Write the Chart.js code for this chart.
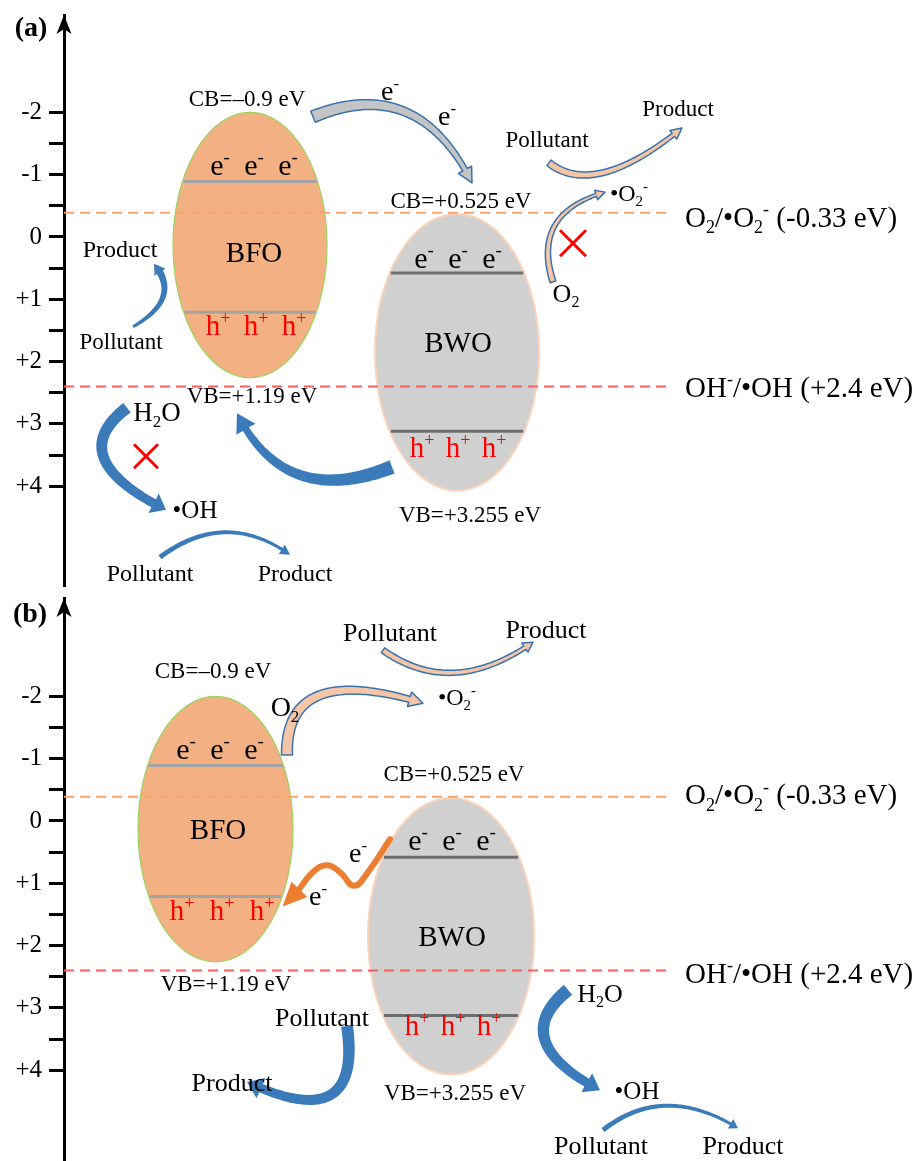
<!DOCTYPE html>
<html>
<head>
<meta charset="utf-8">
<script src="https://cdn.jsdelivr.net/npm/chart.js@4.4.1/dist/chart.umd.min.js"></script>
<style>
  body { margin: 0; background: #fff; }
  canvas { display: block; }
</style>
</head>
<body>
<canvas id="panelA" width="919" height="590"></canvas>
<canvas id="panelB" width="919" height="571"></canvas>
<script>
// energy axis, eV (negative up)
const majorTicks = [-2, -1, 0, 1, 2, 3, 4]
const majorLabels = ['-2', '-1', '0', '+1', '+2', '+3', '+4']
const minorTicks = [-1.5, -0.5, 0.5, 1.5, 2.5, 3.5]

// band structure (eV)
const bfoBody = [-2.0, 2.26]      // top / bottom of the BFO ellipse
const bwoBody = [-0.37, 4.07]     // top / bottom of the BWO ellipse
const bfoEdges = [-0.89, 1.21]    // CB line, VB line
const bwoEdges = [0.58, 3.12]
const bandLabels = ['CB=–0.9 eV', 'VB=+1.19 eV', 'CB=+0.525 eV', 'VB=+3.255 eV']

// redox potentials
const redoxLevels = [-0.39, 2.40]
const redoxLabels = ['O_2/•O_2^- (-0.33 eV)', 'OH^-/•OH (+2.4 eV)']

// electron path from BWO CB to BFO VB in (b), eV
const waveE = [0.29, 0.82, 1.04, 0.82, 0.71, 0.82, 1.12]
const waveTipE = 1.43

const SERIF = '"Liberation Serif", "Times New Roman", serif'
const BLUE = '#3C7BBA'
const EDGE = '#3A72B0'
const PEACH = '#F5C6A5'

const panelA = {
    tag: '(a)', tagPos: [31, -3.37],
    range: [-3.563, 5.586], pad: [15, 5],
    bfoX: 250, bfoRx: 77, bwoX: 457, bwoRx: 82,
    redoxEnd: 666, redoxLabelE: [-0.32, 2.41],
    bandText: [[247, -2.23], [252, 2.55], [461, -0.58], [470, 4.46]],
    names: [[254, 0.24], [458, 1.70]],
    carriers: [
        ['e^-', 254, -1.11, 34, '#000'], ['h^+', 256, 1.46, 38, '#f00'],
        ['e^-', 458, 0.385, 34, '#000'], ['h^+', 458, 3.42, 36, '#f00']
    ],
    texts: [
        ['e^-', 390, -2.31, 28], ['e^-', 447, -1.91, 28],
        ['Pollutant', 547, -1.56, 23], ['Product', 678, -2.07, 23],
        ['•O_2^-', 629, -0.71, 24], ['O_2', 566, 0.90, 26],
        ['Product', 120, 0.19, 24], ['Pollutant', 121, 1.67, 23],
        ['H_2O', 157, 2.81, 27], ['•OH', 195, 4.38, 25],
        ['Pollutant', 150, 5.39, 24], ['Product', 295, 5.39, 24]
    ],
    crosses: [[573, 0.10, 13], [146, 3.52, 12]],
    arrows: [
        { from: [133, 1.44], via: [163, 0.96], to: [154, 0.43], w: [3, 7], head: [13, 10], fill: BLUE },
        { from: [127, 2.74], via: [104, 3.55], to: [166, 4.38], w: [12, 9], head: [22, 14], fill: BLUE },
        { from: [392, 3.69], via: [300, 3.82], to: [237, 2.83], w: [14, 7], head: [22, 16], fill: BLUE },
        { from: [160, 5.14], via: [225, 4.74], to: [290, 5.10], w: [5, 3], head: [11, 8], fill: BLUE },
        { from: [313, -1.93], via: [405, -2.01], to: [472, -0.87], w: [12, 5], head: [15, 12], fill: '#C4C4C4', stroke: EDGE },
        { from: [549, -1.19], via: [605, -1.04], to: [682, -1.75], w: [7, 4], head: [11, 10], fill: PEACH, stroke: EDGE },
        { from: [553, 0.72], via: [555, -0.19], to: [605, -0.72], w: [6, 3], head: [10, 9], fill: PEACH, stroke: EDGE }
    ]
}

const panelB = {
    tag: '(b)', tagPos: [30, -3.34],
    range: [-3.579, 5.457], pad: [8, 0],
    bfoX: 215.5, bfoRx: 77.5, bwoX: 451, bwoRx: 83,
    redoxEnd: 672, redoxLabelE: [-0.42, 2.44],
    bandText: [[213, -2.42], [226, 2.60], [454, -0.77], [455, 4.35]],
    names: [[218, 0.14], [452, 1.86]],
    carriers: [
        ['e^-', 220, -1.11, 34, '#000'], ['h^+', 222, 1.48, 40, '#f00'],
        ['e^-', 452, 0.35, 34, '#000'], ['h^+', 453, 3.32, 36, '#f00']
    ],
    texts: [
        ['e^-', 358, 0.55, 28], ['e^-', 318, 1.24, 28],
        ['Pollutant', 390, -3.03, 26], ['Product', 546, -3.08, 26],
        ['O_2', 285, -1.83, 28], ['•O_2^-', 457, -1.99, 24],
        ['H_2O', 600, 2.76, 26], ['•OH', 637, 4.33, 25],
        ['Pollutant', 601, 5.20, 26], ['Product', 743, 5.20, 26],
        ['Pollutant', 322, 3.15, 26], ['Product', 232, 4.19, 26]
    ],
    crosses: [],
    wave: { x: [390, 368, 354, 340, 327, 313, 298], e: waveE, tip: [279, waveTipE] },
    arrows: [
        { from: [383, -2.74], via: [455, -2.38], to: [533, -2.87], w: [6, 4], head: [11, 9], fill: PEACH, stroke: EDGE },
        { from: [287, -1.06], via: [320, -2.02], to: [423, -1.89], w: [11, 6], head: [15, 12], fill: PEACH, stroke: EDGE },
        { from: [568, 2.71], via: [545, 3.52], to: [600, 4.32], w: [13, 9], head: [22, 14], fill: BLUE },
        { from: [603, 4.96], via: [667, 4.57], to: [738, 4.93], w: [5, 3], head: [11, 8], fill: BLUE },
        { from: [347, 3.29], via: [330, 4.40], to: [247, 4.19], w: [12, 9], head: [22, 14], fill: BLUE }
    ]
}

// text with _x subscripts and ^x superscripts
function drawRich (ctx, str, x, y, size, color, align, weight) {
    const parts = []
    for (let i = 0; i < str.length; i++) {
        const ch = str[i]
        if ((ch === '_' || ch === '^') && i + 1 < str.length) {
            parts.push({ t: str[i + 1], mode: ch })
            i++
        } else if (parts.length && parts[parts.length - 1].mode === '') {
            parts[parts.length - 1].t += ch
        } else {
            parts.push({ t: ch, mode: '' })
        }
    }
    const fontOf = (p) => `${weight || 'normal'} ${p.mode ? Math.round(size * 0.62) : size}px ${SERIF}`
    let total = 0
    parts.forEach(p => {
        ctx.font = fontOf(p)
        p.w = ctx.measureText(p.t).width
        total += p.w
    })
    let cx = align === 'left' ? x : x - total / 2
    const lower = /^[eh]\^/.test(str) && str.length <= 3
    const base = y + size * (lower ? 0.25 : 0.33)
    ctx.fillStyle = color || '#000'
    ctx.textAlign = 'left'
    ctx.textBaseline = 'alphabetic'
    parts.forEach(p => {
        ctx.font = fontOf(p)
        let dy = 0
        if (p.mode === '_') dy = size * 0.22
        if (p.mode === '^') dy = -size * 0.4
        ctx.fillText(p.t, cx, base + dy)
        cx += p.w
    })
}

// tapered curved arrow along a quadratic through `via`
function drawArrow (ctx, P, a) {
    const p0 = P(a.from), m = P(a.via), p2 = P(a.to)
    const c = [2 * m[0] - (p0[0] + p2[0]) / 2, 2 * m[1] - (p0[1] + p2[1]) / 2]
    const at = (t) => [
        (1 - t) * (1 - t) * p0[0] + 2 * t * (1 - t) * c[0] + t * t * p2[0],
        (1 - t) * (1 - t) * p0[1] + 2 * t * (1 - t) * c[1] + t * t * p2[1]
    ]
    const N = 80
    const pts = []
    const cum = [0]
    for (let i = 0; i <= N; i++) {
        pts.push(at(i / N))
        if (i) cum.push(cum[i - 1] + Math.hypot(pts[i][0] - pts[i - 1][0], pts[i][1] - pts[i - 1][1]))
    }
    const [hw, hl] = a.head
    const bodyLen = cum[N] - hl
    let last = 0
    while (last < N && cum[last + 1] <= bodyLen) last++
    const left = [], right = []
    for (let i = 0; i <= last; i++) {
        const pa = pts[Math.max(i - 1, 0)], pb = pts[Math.min(i + 1, N)]
        const len = Math.hypot(pb[0] - pa[0], pb[1] - pa[1]) || 1
        const nx = -(pb[1] - pa[1]) / len, ny = (pb[0] - pa[0]) / len
        const w = (a.w[0] + (a.w[1] - a.w[0]) * cum[i] / bodyLen) / 2
        left.push([pts[i][0] + nx * w, pts[i][1] + ny * w])
        right.push([pts[i][0] - nx * w, pts[i][1] - ny * w])
    }
    const B = pts[last]
    const dl = Math.hypot(p2[0] - B[0], p2[1] - B[1]) || 1
    const bx = -(p2[1] - B[1]) / dl, by = (p2[0] - B[0]) / dl
    ctx.beginPath()
    left.forEach((q, i) => i ? ctx.lineTo(q[0], q[1]) : ctx.moveTo(q[0], q[1]))
    ctx.lineTo(B[0] + bx * hw / 2, B[1] + by * hw / 2)
    ctx.lineTo(p2[0], p2[1])
    ctx.lineTo(B[0] - bx * hw / 2, B[1] - by * hw / 2)
    for (let i = right.length - 1; i >= 0; i--) ctx.lineTo(right[i][0], right[i][1])
    ctx.closePath()
    ctx.fillStyle = a.fill
    ctx.fill()
    if (a.stroke) {
        ctx.strokeStyle = a.stroke
        ctx.lineWidth = 1.5
        ctx.lineJoin = 'round'
        ctx.stroke()
    }
}

function chord (cx, rx, body, level) {
    const mid = (body[0] + body[1]) / 2
    const half = (body[1] - body[0]) / 2
    const r = (level - mid) / half
    const w = rx * Math.sqrt(1 - r * r) - 1
    return [{ x: cx - w, y: level }, { x: cx + w, y: level }]
}

function makePlugin (p) {
    return {
        id: 'diagram',
        beforeDatasetsDraw (chart) {
            const { ctx, scales: { x, y } } = chart
            const ellipse = (cx, rx, body, fill, edge, lw) => {
                const top = y.getPixelForValue(body[0])
                const bot = y.getPixelForValue(body[1])
                ctx.beginPath()
                ctx.ellipse(x.getPixelForValue(cx), (top + bot) / 2, rx, (bot - top) / 2, 0, 0, 2 * Math.PI)
                ctx.fillStyle = fill
                ctx.fill()
                ctx.strokeStyle = edge
                ctx.lineWidth = lw
                ctx.stroke()
            }
            ctx.save()
            ellipse(p.bfoX, p.bfoRx, bfoBody, '#F3B083', '#9BD35E', 1.2)
            ellipse(p.bwoX, p.bwoRx, bwoBody, '#D0D0D0', '#F9D3BA', 2)
            ctx.restore()
        },
        afterDatasetsDraw (chart) {
            const { ctx, scales: { x, y }, chartArea } = chart
            const P = (q) => [x.getPixelForValue(q[0]), y.getPixelForValue(q[1])]
            ctx.save()

            p.arrows.forEach(a => drawArrow(ctx, P, a))

            if (p.wave) {
                const n = p.wave.x.length - 1
                const B = P([p.wave.x[n], p.wave.e[n]])
                const T = P(p.wave.tip)
                const d = Math.hypot(T[0] - B[0], T[1] - B[1])
                const ux = (T[0] - B[0]) / d, uy = (T[1] - B[1]) / d
                const tip = [B[0] + ux * 22, B[1] + uy * 22]
                ctx.beginPath()
                ctx.moveTo(tip[0], tip[1])
                ctx.lineTo(B[0] - uy * 11 - ux * 2, B[1] + ux * 11 - uy * 2)
                ctx.lineTo(B[0] + uy * 11 - ux * 2, B[1] - ux * 11 - uy * 2)
                ctx.closePath()
                ctx.fillStyle = '#ED7D31'
                ctx.fill()
            }

            p.crosses.forEach(([cx, ce, s]) => {
                const [px, py] = P([cx, ce])
                ctx.strokeStyle = '#FF0000'
                ctx.lineWidth = 3
                ctx.beginPath()
                ctx.moveTo(px - s, py - s); ctx.lineTo(px + s, py + s)
                ctx.moveTo(px + s, py - s); ctx.lineTo(px - s, py + s)
                ctx.stroke()
            })

            bandLabels.forEach((t, i) => {
                const [px, py] = P(p.bandText[i])
                drawRich(ctx, t, px, py, 23)
            })
            ;['BFO', 'BWO'].forEach((t, i) => {
                const [px, py] = P(p.names[i])
                drawRich(ctx, t, px, py, 29)
            })
            p.carriers.forEach(([t, cx, ce, gap, color]) => {
                const [px, py] = P([cx, ce])
                const size = t[0] === 'h' ? 29 : 30
                for (let k = -1; k <= 1; k++) drawRich(ctx, t, px + k * gap, py, size, color)
            })
            p.texts.forEach(([t, cx, ce, size]) => {
                const [px, py] = P([cx, ce])
                drawRich(ctx, t, px, py, size)
            })
            redoxLabels.forEach((t, i) => {
                const [px, py] = P([685, p.redoxLabelE[i]])
                drawRich(ctx, t, px, py, 29, '#000', 'left')
            })

            // axis arrow head and panel tag
            const ax = chartArea.left, ay = chartArea.top
            ctx.beginPath()
            ctx.moveTo(ax, ay)
            ctx.lineTo(ax - 7.5, ay + 19)
            ctx.lineTo(ax, ay + 14)
            ctx.lineTo(ax + 7.5, ay + 19)
            ctx.closePath()
            ctx.fillStyle = '#000'
            ctx.fill()
            const [tx, ty] = P(p.tagPos)
            drawRich(ctx, p.tag, tx, ty, 28, '#000', 'center', 'bold')
            ctx.restore()
        }
    }
}

function buildPanel (canvasId, p) {
    const line = (data, color, width, dash) => ({
        data, borderColor: color, borderWidth: width, borderDash: dash || [],
        showLine: true, pointRadius: 0, fill: false, clip: false
    })
    const datasets = [
        line([{ x: 64, y: redoxLevels[0] }, { x: p.redoxEnd, y: redoxLevels[0] }], '#F5A66E', 2, [10, 6]),
        line([{ x: 64, y: redoxLevels[1] }, { x: p.redoxEnd, y: redoxLevels[1] }], '#F26060', 2, [10, 6]),
        line(chord(p.bfoX, p.bfoRx, bfoBody, bfoEdges[0]), '#A3A3A3', 3),
        line(chord(p.bfoX, p.bfoRx, bfoBody, bfoEdges[1]), '#A3A3A3', 3),
        line(chord(p.bwoX, p.bwoRx, bwoBody, bwoEdges[0]), '#6E6E6E', 3),
        line(chord(p.bwoX, p.bwoRx, bwoBody, bwoEdges[1]), '#6E6E6E', 3)
    ]
    if (p.wave) {
        const wave = line(p.wave.x.map((v, i) => ({ x: v, y: p.wave.e[i] })), '#ED7D31', 6)
        wave.tension = 0.45
        wave.borderCapStyle = 'round'
        datasets.push(wave)
    }

    return new Chart(document.getElementById(canvasId), {
        type: 'scatter',
        data: { datasets },
        options: {
            responsive: false,
            animation: false,
            devicePixelRatio: 1,
            layout: { padding: { top: p.pad[0], bottom: p.pad[1], left: 0, right: 0 } },
            plugins: { legend: { display: false }, tooltip: { enabled: false } },
            scales: {
                x: { type: 'linear', min: 64, max: 919, display: false },
                y: {
                    type: 'linear',
                    reverse: true,
                    min: p.range[0],
                    max: p.range[1],
                    afterBuildTicks: (scale) => {
                        scale.ticks = majorTicks.concat(minorTicks)
                            .sort((a, b) => a - b)
                            .map(v => ({ value: v }))
                    },
                    afterFit: (scale) => {
                        scale.width = 64
                        scale.paddingTop = 0
                        scale.paddingBottom = 0
                    },
                    ticks: {
                        autoSkip: false,
                        padding: 7,
                        color: '#000',
                        font: { family: 'Liberation Serif', size: 25 },
                        callback: (v) => {
                            const i = majorTicks.indexOf(v)
                            return i >= 0 ? majorLabels[i] : ''
                        }
                    },
                    grid: { drawOnChartArea: false, drawTicks: true, tickLength: 15, color: '#000', lineWidth: 3 },
                    border: { display: true, color: '#000', width: 3 }
                }
            }
        },
        plugins: [makePlugin(p)]
    })
}

buildPanel('panelA', panelA)
buildPanel('panelB', panelB)
</script>
</body>
</html>
